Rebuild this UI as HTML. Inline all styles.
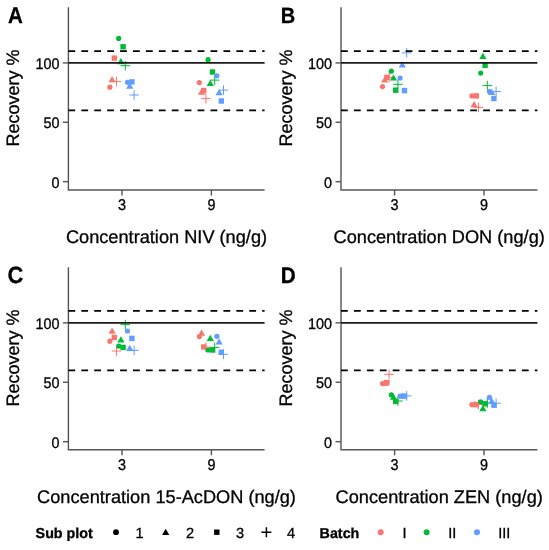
<!DOCTYPE html><html><head><meta charset="utf-8"><style>html,body{margin:0;padding:0;background:#fff;width:549px;height:550px;overflow:hidden}svg{display:block;filter:blur(0.35px)}text{font-family:"Liberation Sans",sans-serif;fill:#000;text-rendering:geometricPrecision;stroke:#000;stroke-width:0.3px}</style></head><body>
<svg width="549" height="550" viewBox="0 0 549 550">
<rect width="549" height="550" fill="#fff"/>
<text transform="translate(8.0,22.8) scale(0.9,1)" x="0" y="0" font-size="22.8" font-weight="bold">A</text>
<text transform="translate(19.2,98.1) rotate(-90)" text-anchor="middle" font-size="18">Recovery %</text>
<line x1="62.90" y1="181.65" x2="68.40" y2="181.65" stroke="#555" stroke-width="1.4"/>
<text transform="translate(59.50,187.70) scale(1,1.06)" text-anchor="end" font-size="14.4" fill="#1a1a1a">0</text>
<line x1="62.90" y1="122.28" x2="68.40" y2="122.28" stroke="#555" stroke-width="1.4"/>
<text transform="translate(59.50,128.34) scale(1,1.06)" text-anchor="end" font-size="14.4" fill="#1a1a1a">50</text>
<line x1="62.90" y1="62.92" x2="68.40" y2="62.92" stroke="#555" stroke-width="1.4"/>
<text transform="translate(59.50,68.97) scale(1,1.06)" text-anchor="end" font-size="14.4" fill="#1a1a1a">100</text>
<line x1="122.00" y1="190.00" x2="122.00" y2="195.50" stroke="#555" stroke-width="1.4"/>
<text transform="translate(122.00,209.70) scale(1,1.09)" text-anchor="middle" font-size="14.4" fill="#1a1a1a">3</text>
<line x1="211.40" y1="190.00" x2="211.40" y2="195.50" stroke="#555" stroke-width="1.4"/>
<text transform="translate(211.40,209.70) scale(1,1.09)" text-anchor="middle" font-size="14.4" fill="#1a1a1a">9</text>
<text x="166.50" y="243.00" text-anchor="middle" font-size="18.2">Concentration NIV (ng/g)</text>
<path d="M68.40 7.20V190.00H264.60" stroke="#555" stroke-width="1.4" fill="none"/>
<circle cx="109.90" cy="87.20" r="2.6" fill="#F8766D"/>
<polygon points="112.10,76.09 115.70,82.29 108.50,82.29" fill="#F8766D"/>
<rect x="111.60" y="55.40" width="5.4" height="5.4" fill="#F8766D"/>
<path d="M111.70 81.60H121.30M116.50 76.80V86.40" stroke="#F8766D" stroke-width="1.0" fill="none"/>
<circle cx="118.70" cy="38.40" r="2.6" fill="#00BA38"/>
<polygon points="120.90,57.99 124.50,64.19 117.30,64.19" fill="#00BA38"/>
<rect x="120.40" y="44.10" width="5.4" height="5.4" fill="#00BA38"/>
<path d="M120.50 65.70H130.10M125.30 60.90V70.50" stroke="#00BA38" stroke-width="1.0" fill="none"/>
<circle cx="127.50" cy="82.30" r="2.6" fill="#619CFF"/>
<polygon points="129.70,82.59 133.30,88.79 126.10,88.79" fill="#619CFF"/>
<rect x="129.20" y="79.20" width="5.4" height="5.4" fill="#619CFF"/>
<path d="M129.30 95.00H138.90M134.10 90.20V99.80" stroke="#619CFF" stroke-width="1.0" fill="none"/>
<circle cx="199.30" cy="82.60" r="2.6" fill="#F8766D"/>
<polygon points="201.50,88.49 205.10,94.69 197.90,94.69" fill="#F8766D"/>
<rect x="201.00" y="87.80" width="5.4" height="5.4" fill="#F8766D"/>
<path d="M201.10 98.60H210.70M205.90 93.80V103.40" stroke="#F8766D" stroke-width="1.0" fill="none"/>
<circle cx="208.10" cy="59.70" r="2.6" fill="#00BA38"/>
<polygon points="210.30,79.69 213.90,85.89 206.70,85.89" fill="#00BA38"/>
<rect x="209.80" y="69.30" width="5.4" height="5.4" fill="#00BA38"/>
<path d="M209.90 80.10H219.50M214.70 75.30V84.90" stroke="#00BA38" stroke-width="1.0" fill="none"/>
<circle cx="216.90" cy="75.80" r="2.6" fill="#619CFF"/>
<polygon points="219.10,89.09 222.70,95.29 215.50,95.29" fill="#619CFF"/>
<rect x="218.60" y="98.30" width="5.4" height="5.4" fill="#619CFF"/>
<path d="M218.70 90.10H228.30M223.50 85.30V94.90" stroke="#619CFF" stroke-width="1.0" fill="none"/>
<line x1="68.40" y1="62.92" x2="264.60" y2="62.92" stroke="#1a1a1a" stroke-width="1.9"/>
<line x1="68.40" y1="51.05" x2="264.60" y2="51.05" stroke="#000" stroke-width="1.8" stroke-dasharray="6.8 6.12"/>
<line x1="68.40" y1="110.41" x2="264.60" y2="110.41" stroke="#000" stroke-width="1.8" stroke-dasharray="6.8 6.12"/>
<text transform="translate(280.8,23.0) scale(0.908,1)" x="0" y="0" font-size="22" font-weight="bold">B</text>
<text transform="translate(291.7,98.1) rotate(-90)" text-anchor="middle" font-size="18">Recovery %</text>
<line x1="335.50" y1="181.65" x2="341.00" y2="181.65" stroke="#555" stroke-width="1.4"/>
<text transform="translate(332.10,187.70) scale(1,1.06)" text-anchor="end" font-size="14.4" fill="#1a1a1a">0</text>
<line x1="335.50" y1="122.28" x2="341.00" y2="122.28" stroke="#555" stroke-width="1.4"/>
<text transform="translate(332.10,128.34) scale(1,1.06)" text-anchor="end" font-size="14.4" fill="#1a1a1a">50</text>
<line x1="335.50" y1="62.92" x2="341.00" y2="62.92" stroke="#555" stroke-width="1.4"/>
<text transform="translate(332.10,68.97) scale(1,1.06)" text-anchor="end" font-size="14.4" fill="#1a1a1a">100</text>
<line x1="394.60" y1="190.00" x2="394.60" y2="195.50" stroke="#555" stroke-width="1.4"/>
<text transform="translate(394.60,209.70) scale(1,1.09)" text-anchor="middle" font-size="14.4" fill="#1a1a1a">3</text>
<line x1="484.00" y1="190.00" x2="484.00" y2="195.50" stroke="#555" stroke-width="1.4"/>
<text transform="translate(484.00,209.70) scale(1,1.09)" text-anchor="middle" font-size="14.4" fill="#1a1a1a">9</text>
<text x="439.20" y="243.00" text-anchor="middle" font-size="18.2">Concentration DON (ng/g)</text>
<path d="M341.00 7.20V190.00H537.40" stroke="#555" stroke-width="1.4" fill="none"/>
<path d="M384.30 77.40H393.90M389.10 72.60V82.20" stroke="#F8766D" stroke-width="1.0" fill="none"/>
<circle cx="382.50" cy="86.60" r="2.6" fill="#F8766D"/>
<polygon points="384.70,76.29 388.30,82.49 381.10,82.49" fill="#F8766D"/>
<rect x="384.20" y="74.70" width="5.4" height="5.4" fill="#F8766D"/>
<circle cx="391.30" cy="71.20" r="2.6" fill="#00BA38"/>
<polygon points="393.50,74.39 397.10,80.59 389.90,80.59" fill="#00BA38"/>
<rect x="393.00" y="87.50" width="5.4" height="5.4" fill="#00BA38"/>
<path d="M393.10 84.30H402.70M397.90 79.50V89.10" stroke="#00BA38" stroke-width="1.0" fill="none"/>
<circle cx="400.10" cy="78.00" r="2.6" fill="#619CFF"/>
<polygon points="402.30,61.39 405.90,67.59 398.70,67.59" fill="#619CFF"/>
<rect x="401.80" y="87.90" width="5.4" height="5.4" fill="#619CFF"/>
<path d="M401.90 52.80H411.50M406.70 48.00V57.60" stroke="#619CFF" stroke-width="1.0" fill="none"/>
<circle cx="471.90" cy="95.90" r="2.6" fill="#F8766D"/>
<polygon points="474.10,101.09 477.70,107.29 470.50,107.29" fill="#F8766D"/>
<rect x="473.60" y="93.20" width="5.4" height="5.4" fill="#F8766D"/>
<path d="M473.70 107.40H483.30M478.50 102.60V112.20" stroke="#F8766D" stroke-width="1.0" fill="none"/>
<circle cx="480.70" cy="73.10" r="2.6" fill="#00BA38"/>
<polygon points="482.90,52.69 486.50,58.89 479.30,58.89" fill="#00BA38"/>
<rect x="482.40" y="62.70" width="5.4" height="5.4" fill="#00BA38"/>
<path d="M482.50 85.60H492.10M487.30 80.80V90.40" stroke="#00BA38" stroke-width="1.0" fill="none"/>
<circle cx="489.50" cy="91.50" r="2.6" fill="#619CFF"/>
<polygon points="491.70,88.69 495.30,94.89 488.10,94.89" fill="#619CFF"/>
<rect x="491.20" y="95.80" width="5.4" height="5.4" fill="#619CFF"/>
<path d="M491.30 91.50H500.90M496.10 86.70V96.30" stroke="#619CFF" stroke-width="1.0" fill="none"/>
<line x1="341.00" y1="62.92" x2="537.40" y2="62.92" stroke="#1a1a1a" stroke-width="1.9"/>
<line x1="341.00" y1="51.05" x2="537.40" y2="51.05" stroke="#000" stroke-width="1.8" stroke-dasharray="6.8 6.12"/>
<line x1="341.00" y1="110.41" x2="537.40" y2="110.41" stroke="#000" stroke-width="1.8" stroke-dasharray="6.8 6.12"/>
<text transform="translate(7.6,283.3) scale(0.93,1)" x="0" y="0" font-size="23.5" font-weight="bold">C</text>
<text transform="translate(19.2,358.0) rotate(-90)" text-anchor="middle" font-size="18">Recovery %</text>
<line x1="62.90" y1="441.65" x2="68.40" y2="441.65" stroke="#555" stroke-width="1.4"/>
<text transform="translate(59.50,447.70) scale(1,1.06)" text-anchor="end" font-size="14.4" fill="#1a1a1a">0</text>
<line x1="62.90" y1="382.25" x2="68.40" y2="382.25" stroke="#555" stroke-width="1.4"/>
<text transform="translate(59.50,388.30) scale(1,1.06)" text-anchor="end" font-size="14.4" fill="#1a1a1a">50</text>
<line x1="62.90" y1="322.85" x2="68.40" y2="322.85" stroke="#555" stroke-width="1.4"/>
<text transform="translate(59.50,328.90) scale(1,1.06)" text-anchor="end" font-size="14.4" fill="#1a1a1a">100</text>
<line x1="122.00" y1="449.80" x2="122.00" y2="455.30" stroke="#555" stroke-width="1.4"/>
<text transform="translate(122.00,469.50) scale(1,1.09)" text-anchor="middle" font-size="14.4" fill="#1a1a1a">3</text>
<line x1="211.40" y1="449.80" x2="211.40" y2="455.30" stroke="#555" stroke-width="1.4"/>
<text transform="translate(211.40,469.50) scale(1,1.09)" text-anchor="middle" font-size="14.4" fill="#1a1a1a">9</text>
<text x="166.50" y="502.80" text-anchor="middle" font-size="18.2">Concentration 15-AcDON (ng/g)</text>
<path d="M68.40 267.20V449.80H264.60" stroke="#555" stroke-width="1.4" fill="none"/>
<circle cx="109.90" cy="341.20" r="2.6" fill="#F8766D"/>
<polygon points="112.10,327.59 115.70,333.79 108.50,333.79" fill="#F8766D"/>
<rect x="111.60" y="334.80" width="5.4" height="5.4" fill="#F8766D"/>
<path d="M111.70 351.00H121.30M116.50 346.20V355.80" stroke="#F8766D" stroke-width="1.0" fill="none"/>
<circle cx="118.70" cy="346.10" r="2.6" fill="#00BA38"/>
<polygon points="120.90,336.19 124.50,342.39 117.30,342.39" fill="#00BA38"/>
<rect x="120.40" y="344.70" width="5.4" height="5.4" fill="#00BA38"/>
<path d="M120.50 324.60H130.10M125.30 319.80V329.40" stroke="#00BA38" stroke-width="1.0" fill="none"/>
<circle cx="127.50" cy="331.00" r="2.6" fill="#619CFF"/>
<polygon points="129.70,344.79 133.30,350.99 126.10,350.99" fill="#619CFF"/>
<rect x="129.20" y="335.70" width="5.4" height="5.4" fill="#619CFF"/>
<path d="M129.30 350.40H138.90M134.10 345.60V355.20" stroke="#619CFF" stroke-width="1.0" fill="none"/>
<path d="M201.10 347.00H210.70M205.90 342.20V351.80" stroke="#F8766D" stroke-width="1.0" fill="none"/>
<circle cx="199.30" cy="336.60" r="2.6" fill="#F8766D"/>
<polygon points="201.50,329.59 205.10,335.79 197.90,335.79" fill="#F8766D"/>
<rect x="201.00" y="344.30" width="5.4" height="5.4" fill="#F8766D"/>
<circle cx="208.10" cy="350.00" r="2.6" fill="#00BA38"/>
<polygon points="210.30,334.79 213.90,340.99 206.70,340.99" fill="#00BA38"/>
<rect x="209.80" y="347.30" width="5.4" height="5.4" fill="#00BA38"/>
<path d="M209.90 347.60H219.50M214.70 342.80V352.40" stroke="#00BA38" stroke-width="1.0" fill="none"/>
<circle cx="216.90" cy="336.30" r="2.6" fill="#619CFF"/>
<polygon points="219.10,338.29 222.70,344.49 215.50,344.49" fill="#619CFF"/>
<rect x="218.60" y="349.60" width="5.4" height="5.4" fill="#619CFF"/>
<path d="M218.70 354.30H228.30M223.50 349.50V359.10" stroke="#619CFF" stroke-width="1.0" fill="none"/>
<line x1="68.40" y1="322.85" x2="264.60" y2="322.85" stroke="#1a1a1a" stroke-width="1.9"/>
<line x1="68.40" y1="310.97" x2="264.60" y2="310.97" stroke="#000" stroke-width="1.8" stroke-dasharray="6.8 6.12"/>
<line x1="68.40" y1="370.37" x2="264.60" y2="370.37" stroke="#000" stroke-width="1.8" stroke-dasharray="6.8 6.12"/>
<text transform="translate(280.8,283.0) scale(0.919,1)" x="0" y="0" font-size="22.5" font-weight="bold">D</text>
<text transform="translate(291.7,358.0) rotate(-90)" text-anchor="middle" font-size="18">Recovery %</text>
<line x1="335.50" y1="441.65" x2="341.00" y2="441.65" stroke="#555" stroke-width="1.4"/>
<text transform="translate(332.10,447.70) scale(1,1.06)" text-anchor="end" font-size="14.4" fill="#1a1a1a">0</text>
<line x1="335.50" y1="382.25" x2="341.00" y2="382.25" stroke="#555" stroke-width="1.4"/>
<text transform="translate(332.10,388.30) scale(1,1.06)" text-anchor="end" font-size="14.4" fill="#1a1a1a">50</text>
<line x1="335.50" y1="322.85" x2="341.00" y2="322.85" stroke="#555" stroke-width="1.4"/>
<text transform="translate(332.10,328.90) scale(1,1.06)" text-anchor="end" font-size="14.4" fill="#1a1a1a">100</text>
<line x1="394.60" y1="449.80" x2="394.60" y2="455.30" stroke="#555" stroke-width="1.4"/>
<text transform="translate(394.60,469.50) scale(1,1.09)" text-anchor="middle" font-size="14.4" fill="#1a1a1a">3</text>
<line x1="484.00" y1="449.80" x2="484.00" y2="455.30" stroke="#555" stroke-width="1.4"/>
<text transform="translate(484.00,469.50) scale(1,1.09)" text-anchor="middle" font-size="14.4" fill="#1a1a1a">9</text>
<text x="439.20" y="502.80" text-anchor="middle" font-size="18.2">Concentration ZEN (ng/g)</text>
<path d="M341.00 267.20V449.80H537.40" stroke="#555" stroke-width="1.4" fill="none"/>
<circle cx="382.50" cy="383.60" r="2.6" fill="#F8766D"/>
<polygon points="384.70,379.59 388.30,385.79 381.10,385.79" fill="#F8766D"/>
<rect x="384.20" y="379.90" width="5.4" height="5.4" fill="#F8766D"/>
<path d="M384.30 374.30H393.90M389.10 369.50V379.10" stroke="#F8766D" stroke-width="1.0" fill="none"/>
<circle cx="391.30" cy="394.80" r="2.6" fill="#00BA38"/>
<polygon points="393.50,393.59 397.10,399.79 389.90,399.79" fill="#00BA38"/>
<rect x="393.00" y="398.70" width="5.4" height="5.4" fill="#00BA38"/>
<path d="M393.10 401.00H402.70M397.90 396.20V405.80" stroke="#00BA38" stroke-width="1.0" fill="none"/>
<circle cx="400.10" cy="396.00" r="2.6" fill="#619CFF"/>
<polygon points="402.30,392.59 405.90,398.79 398.70,398.79" fill="#619CFF"/>
<rect x="401.80" y="393.30" width="5.4" height="5.4" fill="#619CFF"/>
<path d="M401.90 395.90H411.50M406.70 391.10V400.70" stroke="#619CFF" stroke-width="1.0" fill="none"/>
<path d="M473.70 404.50H483.30M478.50 399.70V409.30" stroke="#F8766D" stroke-width="1.0" fill="none"/>
<circle cx="471.90" cy="404.50" r="2.6" fill="#F8766D"/>
<polygon points="474.10,401.09 477.70,407.29 470.50,407.29" fill="#F8766D"/>
<rect x="473.60" y="401.80" width="5.4" height="5.4" fill="#F8766D"/>
<circle cx="480.70" cy="401.80" r="2.6" fill="#00BA38"/>
<polygon points="482.90,404.99 486.50,411.19 479.30,411.19" fill="#00BA38"/>
<rect x="482.40" y="401.10" width="5.4" height="5.4" fill="#00BA38"/>
<path d="M482.50 403.00H492.10M487.30 398.20V407.80" stroke="#00BA38" stroke-width="1.0" fill="none"/>
<circle cx="489.50" cy="397.30" r="2.6" fill="#619CFF"/>
<polygon points="491.70,397.59 495.30,403.79 488.10,403.79" fill="#619CFF"/>
<rect x="491.20" y="402.50" width="5.4" height="5.4" fill="#619CFF"/>
<path d="M491.30 403.20H500.90M496.10 398.40V408.00" stroke="#619CFF" stroke-width="1.0" fill="none"/>
<line x1="341.00" y1="322.85" x2="537.40" y2="322.85" stroke="#1a1a1a" stroke-width="1.9"/>
<line x1="341.00" y1="310.97" x2="537.40" y2="310.97" stroke="#000" stroke-width="1.8" stroke-dasharray="6.8 6.12"/>
<line x1="341.00" y1="370.37" x2="537.40" y2="370.37" stroke="#000" stroke-width="1.8" stroke-dasharray="6.8 6.12"/>
<text x="35.6" y="537.6" font-size="14.3" font-weight="bold" stroke-width="0.1">Sub plot</text>
<circle cx="116.00" cy="532.20" r="2.9" fill="#000"/>
<text x="135.6" y="537.6" font-size="14.6">1</text>
<polygon points="165.70,528.79 169.30,534.99 162.10,534.99" fill="#000"/>
<text x="186.0" y="537.6" font-size="14.6">2</text>
<rect x="214.10" y="529.50" width="5.4" height="5.4" fill="#000"/>
<text x="236.0" y="537.6" font-size="14.6">3</text>
<path d="M261.40 532.20H271.40M266.40 527.20V537.20" stroke="#000" stroke-width="1.5" fill="none"/>
<text x="287.0" y="537.6" font-size="14.6">4</text>
<text x="319.6" y="537.6" font-size="14.3" font-weight="bold" stroke-width="0.1">Batch</text>
<circle cx="380.70" cy="532.20" r="3.0" fill="#F8766D"/>
<text x="402.4" y="537.6" font-size="14.6">I</text>
<circle cx="426.60" cy="532.20" r="3.0" fill="#00BA38"/>
<text x="448.2" y="537.6" font-size="14.6">II</text>
<circle cx="477.00" cy="532.20" r="3.0" fill="#619CFF"/>
<text x="498.2" y="537.6" font-size="14.6">III</text>
</svg></body></html>
